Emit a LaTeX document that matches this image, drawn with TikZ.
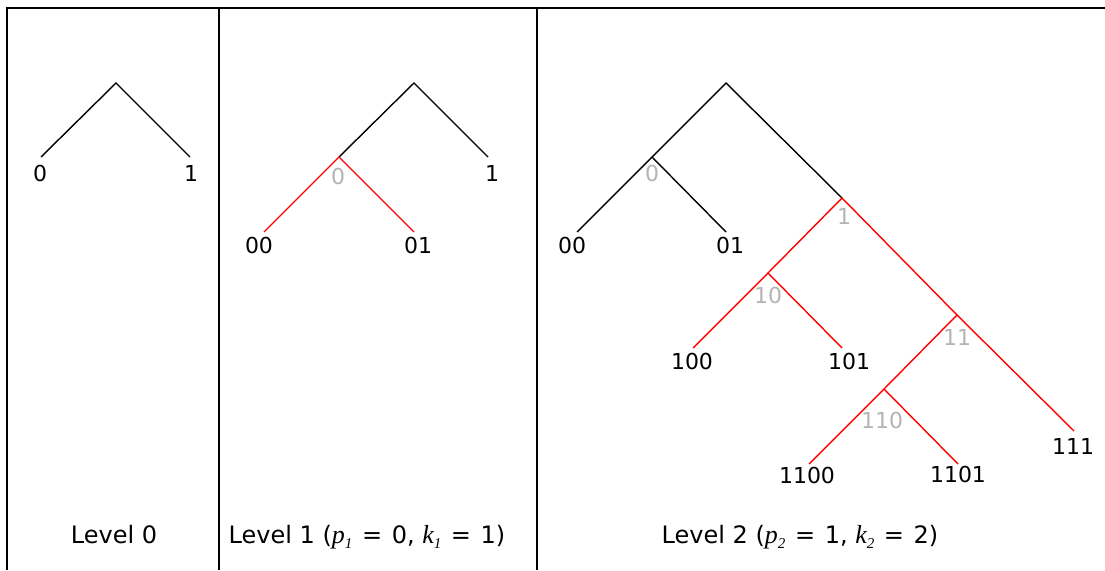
\documentclass[tikz,border=0pt]{standalone}
\usepackage{fontspec}
\setmainfont{DejaVu Sans}
\newfontfamily\serfont{Liberation Serif}
\definecolor{lgray}{RGB}{180,180,180}
\newcommand\itv[1]{{\fontsize{26}{26}\selectfont\serfont\itshape #1}}
\newcommand\sbs[1]{\raisebox{-0.45ex}{\fontsize{15}{15}\selectfont\serfont\itshape #1}}
\newcommand\eqs{\ \hspace{2pt}=\hspace{2pt}\ }
\begin{document}
\begin{tikzpicture}[x=1pt,y=-1pt,
  frame/.style={line width=1.6pt, black},
  blk/.style={line width=1.4pt, black},
  rd/.style={line width=1.4pt, red},
  lbl/.style={font=\fontsize{22}{22}\selectfont, inner sep=0pt},
  glbl/.style={lbl, text=lgray},
  captext/.style={font=\fontsize{24}{24}\selectfont, inner sep=0pt, anchor=base}]
\useasboundingbox (0,0) rectangle (1105,570);
% frame
\draw[frame] (7,570) -- (7,8) -- (1105,8);
\draw[frame] (219,8) -- (219,570);
\draw[frame] (537,8) -- (537,570);

% ---- Level 0 ----
\coordinate (a0) at (116,83);
\coordinate (a0l) at (41,157);
\coordinate (a0r) at (190,157);
\draw[blk] (a0l) -- (a0) -- (a0r);
\node[lbl] (la0l) at (40,173) {0};
\node[lbl] (la0r) at (191,173) {1};

% ---- Level 1 ----
\coordinate (b0) at (414,83);
\coordinate (b1) at (339,157);
\coordinate (b1r) at (488,157);
\coordinate (b00) at (264,232);
\coordinate (b01) at (414,232);
\draw[blk] (b1) -- (b0) -- (b1r);
\draw[rd] (b00) -- (b1) -- (b01);
\node[glbl] (gb1) at (338,176) {0};
\node[lbl] (lb1r) at (492,173) {1};
\node[lbl] (lb00) at (259,245) {00};
\node[lbl] (lb01) at (418,245) {01};

% ---- Level 2 ----
\coordinate (c0) at (726,83);
\coordinate (c1) at (652,157);
\coordinate (c00) at (577,232);
\coordinate (c01) at (726,232);
\coordinate (c2) at (842,198);
\coordinate (c10) at (768,273);
\coordinate (c100) at (693,348);
\coordinate (c101) at (842,348);
\coordinate (c11) at (957,315);
\coordinate (c110) at (884,389);
\coordinate (c1100) at (809,464);
\coordinate (c1101) at (958,464);
\coordinate (c111) at (1074,431);
\draw[blk] (c1) -- (c0) -- (c2);
\draw[blk] (c00) -- (c1) -- (c01);
\draw[rd] (c10) -- (c2) -- (c11);
\draw[rd] (c100) -- (c10) -- (c101);
\draw[rd] (c110) -- (c11) -- (c111);
\draw[rd] (c1100) -- (c110) -- (c1101);
\node[glbl] (gc1) at (652,173) {0};
\node[glbl] (gc2) at (844,216) {1};
\node[glbl] (gc10) at (768,295) {10};
\node[glbl] (gc11) at (957,337) {11};
\node[glbl] (gc110) at (882,420) {110};
\node[lbl] (lc00) at (572,245) {00};
\node[lbl] (lc01) at (730,245) {01};
\node[lbl] (lc100) at (692,361) {100};
\node[lbl] (lc101) at (849,361) {101};
\node[lbl] (lc1100) at (807,475) {1100};
\node[lbl] (lc1101) at (958,474) {1101};
\node[lbl] (lc111) at (1073,446) {111};

% captions
\node[captext] (cap0) at (114,543) {Level 0};
\node[captext] (cap1) at (367,543) {Level 1 (\itv{p}\sbs{1}\eqs 0, \itv{k}\sbs{1}\eqs 1)};
\node[captext] (cap2) at (800,543) {Level 2 (\itv{p}\sbs{2}\eqs 1, \itv{k}\sbs{2}\eqs 2)};
\end{tikzpicture}
\end{document}
